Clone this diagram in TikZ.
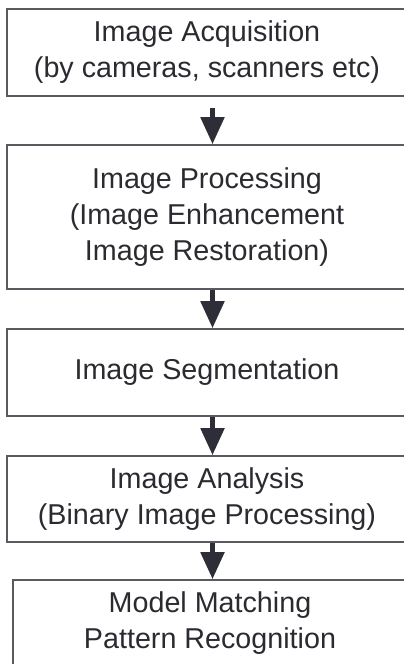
\documentclass[tikz,border=0pt]{standalone}
\usepackage{fontspec}
\setmainfont{Liberation Sans}
\usetikzlibrary{arrows.meta}

\definecolor{boxline}{HTML}{5A5A60}
\definecolor{arrowdark}{HTML}{2E2E38}
\definecolor{textdark}{HTML}{2A2A30}

\tikzset{
  stage/.style={draw=boxline, line width=1.6pt, minimum width=400pt, align=center,
    text=textdark, inner sep=0pt, font=\fontsize{28.7}{36}\selectfont},
  flow/.style={line width=5pt, draw=arrowdark, fill=arrowdark,
    -{Triangle[length=27pt, width=23pt]}}
}

\begin{document}
\begin{tikzpicture}[x=1pt, y=1pt]
\useasboundingbox (0,0) rectangle (404,-664);

\node[stage, minimum height=87pt] (acq) at (207,-52.5)
  {Image Acquisition\\(by cameras, scanners etc)};
\node[stage, minimum height=144pt] (proc) at (207,-217)
  {Image Processing\\(Image Enhancement\\Image Restoration)};
\node[stage, minimum height=87pt] (seg) at (207,-372.5) {Image Segmentation};
\node[stage, minimum height=86pt] (anal) at (207,-499)
  {Image Analysis\\(Binary Image Processing)};
\node[stage, minimum height=87pt, minimum width=394pt] (match) at (210,-623.5)
  {Model Matching\\Pattern Recognition};

\coordinate (axis) at (212.5,0);
\draw[flow, shorten <=11pt] (acq.south -| axis) -- (proc.north -| axis);
\draw[flow] (proc.south -| axis) -- (seg.north -| axis);
\draw[flow] (seg.south -| axis) -- (anal.north -| axis);
\draw[flow] (anal.south -| axis) -- (match.north -| axis);
\end{tikzpicture}
\end{document}
